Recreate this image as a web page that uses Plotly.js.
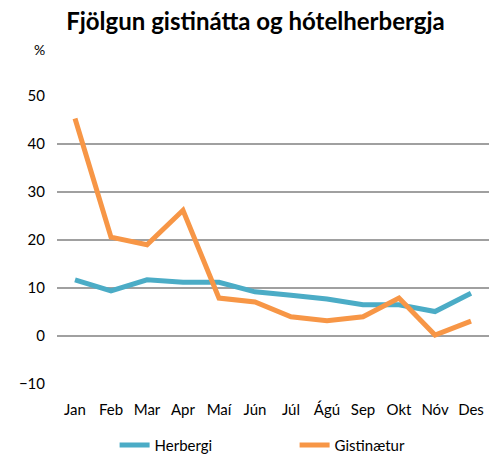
<!DOCTYPE html>
<html><head><meta charset="utf-8">
<script src="https://cdn.plot.ly/plotly-3.0.1.min.js"></script>
<style>html,body{margin:0;padding:0;background:#fff}</style>
</head><body>
<div id="chart" style="width:496px;height:454px"></div>
<script>
const months = ["Jan","Feb","Mar","Apr","Maí","Jún","Júl","Ágú","Sep","Okt","Nóv","Des"];
const herbergi = [11.7, 9.4, 11.7, 11.2, 11.2, 9.2, 8.5, 7.7, 6.5, 6.5, 5.1, 8.9];
const gistinaetur = [45.3, 20.6, 19.0, 26.2, 7.9, 7.1, 4.0, 3.2, 4.0, 7.9, 0.2, 3.1];
const yTicks = [-10, 0, 10, 20, 30, 40, 50];
const font = "Lato, 'Open Sans', sans-serif";

const traces = [
  {x: months, y: herbergi, name: "Herbergi", type: "scatter", mode: "lines",
   line: {color: "#4bacc6", width: 5}},
  {x: months, y: gistinaetur, name: "Gistinætur", type: "scatter", mode: "lines",
   line: {color: "#f79646", width: 5}}
];
const layout = {
  width: 496, height: 454,
  margin: {l: 57, r: 7, t: 96, b: 70, autoexpand: false},
  paper_bgcolor: "#fff", plot_bgcolor: "#fff",
  font: {family: font, size: 15, color: "#000"},
  title: {text: "<b>Fjölgun gistinátta og hótelherbergja</b>", x: 0.515, xanchor: "center",
          y: 0.952, yanchor: "middle", font: {family: font, size: 24, color: "#000"}},
  xaxis: {type: "category", range: [-0.5, 11.5], showgrid: false, zeroline: false, showline: false,
          ticks: "outside", ticklen: 12, tickcolor: "rgba(0,0,0,0)",
          tickfont: {size: 15}},
  yaxis: {range: [-10, 50], tickvals: yTicks, showgrid: true, gridcolor: "#a0a0a0", gridwidth: 2,
          zeroline: false, showline: false, ticks: "outside", ticklen: 8, tickcolor: "rgba(0,0,0,0)",
          tickfont: {size: 15}},
  showlegend: true,
  legend: {orientation: "h", x: 0.55, xanchor: "center", y: -0.155, yanchor: "top",
           font: {size: 15}, traceorder: "normal", entrywidth: 135, entrywidthmode: "pixels"},
  annotations: [{text: "%", xref: "paper", yref: "paper", x: -0.04, y: 1.16, xanchor: "center",
                 yanchor: "middle", showarrow: false, font: {size: 14}}]
};
Plotly.newPlot("chart", traces, layout, {displayModeBar: false, staticPlot: true});
</script>
</body></html>
